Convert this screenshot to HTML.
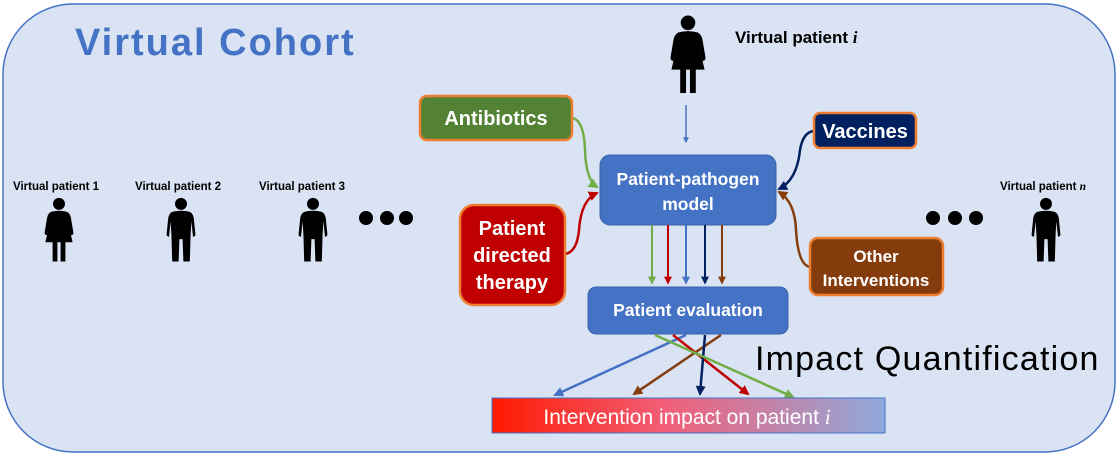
<!DOCTYPE html>
<html><head><meta charset="utf-8"><style>
html,body{margin:0;padding:0;background:#fff;}
svg{display:block;}
text{font-family:"Liberation Sans",sans-serif;}
</style></head><body>
<svg width="1120" height="457" viewBox="0 0 1120 457" xmlns="http://www.w3.org/2000/svg">
<defs>
<symbol id="man" viewBox="0 0 40 80">
<circle cx="20" cy="8" r="7.5" fill="#000"/>
<path d="M9 18 Q20 15 31 18 Q35 20 36 26 L38 46 Q38 49 35 49 L33 30 L32 46 L31 80 L23 80 L22 52 L18 52 L17 80 L9 80 L8 46 L7 30 L5 49 Q2 49 2 46 L4 26 Q5 20 9 18Z" fill="#000"/>
</symbol>
<symbol id="woman" viewBox="0 0 40 80">
<circle cx="20" cy="8" r="7.5" fill="#000"/>
<path d="M10 18 Q20 15 30 18 Q34 20 35 26 L38 44 Q38 47 35 47 L31 30 L37 56 L28 56 L28 80 L22 80 L22 56 L18 56 L18 80 L12 80 L12 56 L3 56 L9 30 L5 47 Q2 47 2 44 L5 26 Q6 20 10 18Z" fill="#000"/>
</symbol>
<linearGradient id="grad" x1="0" x2="1" y1="0" y2="0">
<stop offset="0" stop-color="#ff1a00"/><stop offset="0.45" stop-color="#f0607a"/><stop offset="1" stop-color="#8faadc"/>
</linearGradient>
<marker id="ab" viewBox="0 0 10 10" refX="8" refY="5" markerWidth="4" markerHeight="4" orient="auto"><path d="M0 0L10 5L0 10Z" fill="#4472c4"/></marker>
<marker id="ag" viewBox="0 0 10 10" refX="8" refY="5" markerWidth="4" markerHeight="4" orient="auto"><path d="M0 0L10 5L0 10Z" fill="#70ad47"/></marker>
<marker id="ar" viewBox="0 0 10 10" refX="8" refY="5" markerWidth="4" markerHeight="4" orient="auto"><path d="M0 0L10 5L0 10Z" fill="#c00000"/></marker>
<marker id="an" viewBox="0 0 10 10" refX="8" refY="5" markerWidth="4" markerHeight="4" orient="auto"><path d="M0 0L10 5L0 10Z" fill="#002060"/></marker>
<marker id="aw" viewBox="0 0 10 10" refX="8" refY="5" markerWidth="4" markerHeight="4" orient="auto"><path d="M0 0L10 5L0 10Z" fill="#843c0c"/></marker>
</defs>
<rect x="3" y="4" width="1112" height="448" rx="70" fill="#dae3f3" stroke="#4472c4" stroke-width="1.5"/>
<text x="75" y="55" font-size="38" font-weight="bold" fill="#4472c4" letter-spacing="2">Virtual Cohort</text>

<use href="#woman" x="668" y="15" width="40" height="78"/>
<text x="735" y="43" font-size="17" font-weight="bold">Virtual patient <tspan font-family="Liberation Serif" font-style="italic">i</tspan></text>

<text x="13" y="190" font-size="11.5" font-weight="bold">Virtual patient 1</text>
<text x="135" y="190" font-size="11.5" font-weight="bold">Virtual patient 2</text>
<text x="259" y="190" font-size="11.5" font-weight="bold">Virtual patient 3</text>
<text x="1000" y="190" font-size="11.5" font-weight="bold">Virtual patient <tspan font-family="Liberation Serif" font-style="italic">n</tspan></text>
<use href="#woman" x="43" y="197" width="32" height="65"/>
<use href="#man" x="165" y="197" width="32" height="65"/>
<use href="#man" x="297" y="197" width="32" height="65"/>
<use href="#man" x="1030" y="197" width="32" height="65"/>
<g fill="#000"><circle cx="366" cy="218" r="7"/><circle cx="387" cy="218" r="7"/><circle cx="406" cy="218" r="7"/>
<circle cx="933" cy="218" r="7"/><circle cx="955" cy="218" r="7"/><circle cx="976" cy="218" r="7"/></g>

<line x1="686" y1="105" x2="686" y2="142" stroke="#4472c4" stroke-width="1.5" marker-end="url(#ab)"/>

<path d="M572 118 Q584 120 585 150 Q586 180 597 187" fill="none" stroke="#70ad47" stroke-width="2.5" marker-end="url(#ag)"/>
<path d="M565 254 Q577 252 579 230 Q581 200 597 193" fill="none" stroke="#c00000" stroke-width="2.5" marker-end="url(#ar)"/>
<path d="M814 131 Q803 132 800 150 Q797 180 779 189" fill="none" stroke="#002060" stroke-width="2.5" marker-end="url(#an)"/>
<path d="M810 267 Q798 265 796 230 Q795 202 779 192" fill="none" stroke="#843c0c" stroke-width="2.5" marker-end="url(#aw)"/>

<rect x="420" y="96" width="152" height="44" rx="7" fill="#548235" stroke="#ed7d31" stroke-width="2.5"/>
<text x="496" y="125" font-size="20" font-weight="bold" fill="#fff" text-anchor="middle">Antibiotics</text>
<rect x="814" y="113" width="102" height="35" rx="6" fill="#002060" stroke="#ed7d31" stroke-width="2.5"/>
<text x="865" y="138" font-size="20" font-weight="bold" fill="#fff" text-anchor="middle">Vaccines</text>
<rect x="460" y="205" width="105" height="100" rx="14" fill="#c00000" stroke="#ed7d31" stroke-width="2.5"/>
<text x="512" y="235" font-size="20" font-weight="bold" fill="#fff" text-anchor="middle">Patient</text>
<text x="512" y="262" font-size="20" font-weight="bold" fill="#fff" text-anchor="middle">directed</text>
<text x="512" y="289" font-size="20" font-weight="bold" fill="#fff" text-anchor="middle">therapy</text>
<rect x="810" y="238" width="133" height="57" rx="8" fill="#843c0c" stroke="#ed7d31" stroke-width="2.5"/>
<text x="876" y="262" font-size="17" font-weight="bold" fill="#fff" text-anchor="middle">Other</text>
<text x="876" y="286" font-size="17" font-weight="bold" fill="#fff" text-anchor="middle">Interventions</text>

<rect x="600" y="155" width="176" height="70" rx="10" fill="#4472c4" stroke="#3a62a8" stroke-width="1"/>
<text x="688" y="185" font-size="17.5" font-weight="bold" fill="#fff" text-anchor="middle">Patient-pathogen</text>
<text x="688" y="210" font-size="17.5" font-weight="bold" fill="#fff" text-anchor="middle">model</text>

<g stroke-width="2">
<line x1="652" y1="225" x2="652" y2="283" stroke="#70ad47" marker-end="url(#ag)"/>
<line x1="668" y1="225" x2="668" y2="283" stroke="#c00000" marker-end="url(#ar)"/>
<line x1="686" y1="225" x2="686" y2="283" stroke="#4472c4" marker-end="url(#ab)"/>
<line x1="705" y1="225" x2="705" y2="283" stroke="#002060" marker-end="url(#an)"/>
<line x1="722" y1="225" x2="722" y2="283" stroke="#843c0c" marker-end="url(#aw)"/>
</g>

<rect x="588" y="287" width="200" height="47" rx="8" fill="#4472c4" stroke="#3a62a8" stroke-width="1"/>
<text x="688" y="316" font-size="17.5" font-weight="bold" fill="#fff" text-anchor="middle">Patient evaluation</text>

<g stroke-width="2.5" fill="none">
<line x1="686" y1="335" x2="555" y2="395" stroke="#4472c4" marker-end="url(#ab)"/>
<line x1="721" y1="335" x2="634" y2="394" stroke="#843c0c" marker-end="url(#aw)"/>
<line x1="673" y1="335" x2="748" y2="394" stroke="#c00000" marker-end="url(#ar)"/>
<line x1="705" y1="335" x2="700" y2="394" stroke="#002060" marker-end="url(#an)"/>
<line x1="655" y1="335" x2="793" y2="397" stroke="#70ad47" marker-end="url(#ag)"/>
</g>

<text x="755" y="370" font-size="34" fill="#000" letter-spacing="1.2">Impact Quantification</text>

<rect x="492" y="398" width="393" height="35" fill="url(#grad)" stroke="#4472c4" stroke-width="1"/>
<text x="687" y="424" font-size="21" fill="#fff" text-anchor="middle">Intervention impact on patient <tspan font-family="Liberation Serif" font-style="italic">i</tspan></text>
</svg>
</body></html>
